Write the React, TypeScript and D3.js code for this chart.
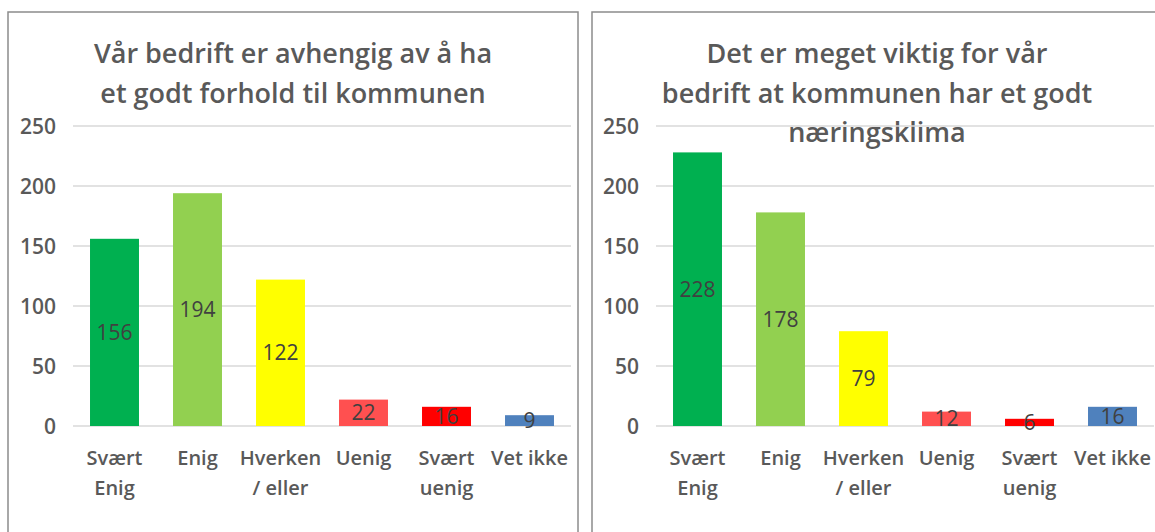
import React from 'react';
import { scaleBand, scaleLinear } from 'd3';

// categories and tick labels
const categories = ['Svært Enig', 'Enig', 'Hverken / eller', 'Uenig', 'Svært uenig', 'Vet ikke'];
const categoryLines = [['Svært', 'Enig'], ['Enig'], ['Hverken', '/ eller'], ['Uenig'], ['Svært', 'uenig'], ['Vet ikke']];
const yTicks = [0, 50, 100, 150, 200, 250];

// series values
const avhengigValues = [156, 194, 122, 22, 16, 9];
const klimaValues = [228, 178, 79, 12, 6, 16];

const avhengigTitle = ['Vår bedrift er avhengig av å ha', 'et godt forhold til kommunen'];
const klimaTitle = ['Det er meget viktig for vår', 'bedrift at kommunen har et godt', 'næringsklima'];

const barColors = ['#00B050', '#92D050', '#FFFF00', '#FF5050', '#FF0000', '#4F81BD'];

const FONT = "'Open Sans', 'Noto Sans', sans-serif";

type PanelProps = {
  left: number;
  plotLeft: number;
  title: string[];
  values: number[];
};

const Panel = ({ left, plotLeft, title, values }: PanelProps) => {
  const panelW = 570;
  const x = scaleBand<string>()
    .domain(categories)
    .range([plotLeft, plotLeft + 498])
    .paddingInner(0.41)
    .paddingOuter(0.205);
  const y = scaleLinear().domain([0, 250]).range([426, 126]);
  const cx = left + panelW / 2;

  return (
    <g>
      <rect x={left} y={12} width={panelW} height={540} fill="#fff" stroke="#8c8c8c" strokeWidth={1.5} />
      {/* title */}
      {title.map((t, i) => (
        <text key={t} x={cx} y={63 + i * 39.5} textAnchor="middle" fontFamily={FONT}
          fontWeight={600} fontSize={27} fill="#595959">{t}</text>
      ))}
      {/* gridlines */}
      {yTicks.map((t) => (
        <g key={t}>
          <line x1={plotLeft} x2={plotLeft + 498} y1={y(t)} y2={y(t)} stroke="#d9d9d9" strokeWidth={1.5} />
          <text x={plotLeft - 17} y={y(t)} dy="0.36em" textAnchor="end" fontFamily={FONT}
            fontWeight={600} fontSize={21} fill="#595959">{t}</text>
        </g>
      ))}
      {/* bars */}
      {values.map((v, i) => {
        const bx = x(categories[i])!;
        return (
          <g key={categories[i]}>
            <rect x={bx} y={y(v)} width={x.bandwidth()} height={y(0) - y(v)} fill={barColors[i]} />
            <text x={bx + x.bandwidth() / 2} y={(y(v) + y(0)) / 2} dy="0.36em" textAnchor="middle"
              fontFamily={FONT} fontSize={21} fill="#404040">{v}</text>
          </g>
        );
      })}
      {/* category labels */}
      {categories.map((c, i) => (
        <text key={c} x={x(c)! + x.bandwidth() / 2} textAnchor="middle" fontFamily={FONT}
          fontWeight={600} fontSize={20} fill="#595959">
          {categoryLines[i].map((l, j) => (
            <tspan key={l} x={x(c)! + x.bandwidth() / 2} y={465 + j * 30}>{l}</tspan>
          ))}
        </text>
      ))}
    </g>
  );
};

export default function App() {
  return (
    <svg width={1155} height={532} style={{ position: 'absolute', left: 0, top: 0, background: '#fff' }}>
      <rect width={1155} height={532} fill="#fff" />
      <Panel left={8} plotLeft={73} title={avhengigTitle} values={avhengigValues} />
      <Panel left={592} plotLeft={656} title={klimaTitle} values={klimaValues} />
    </svg>
  );
}
